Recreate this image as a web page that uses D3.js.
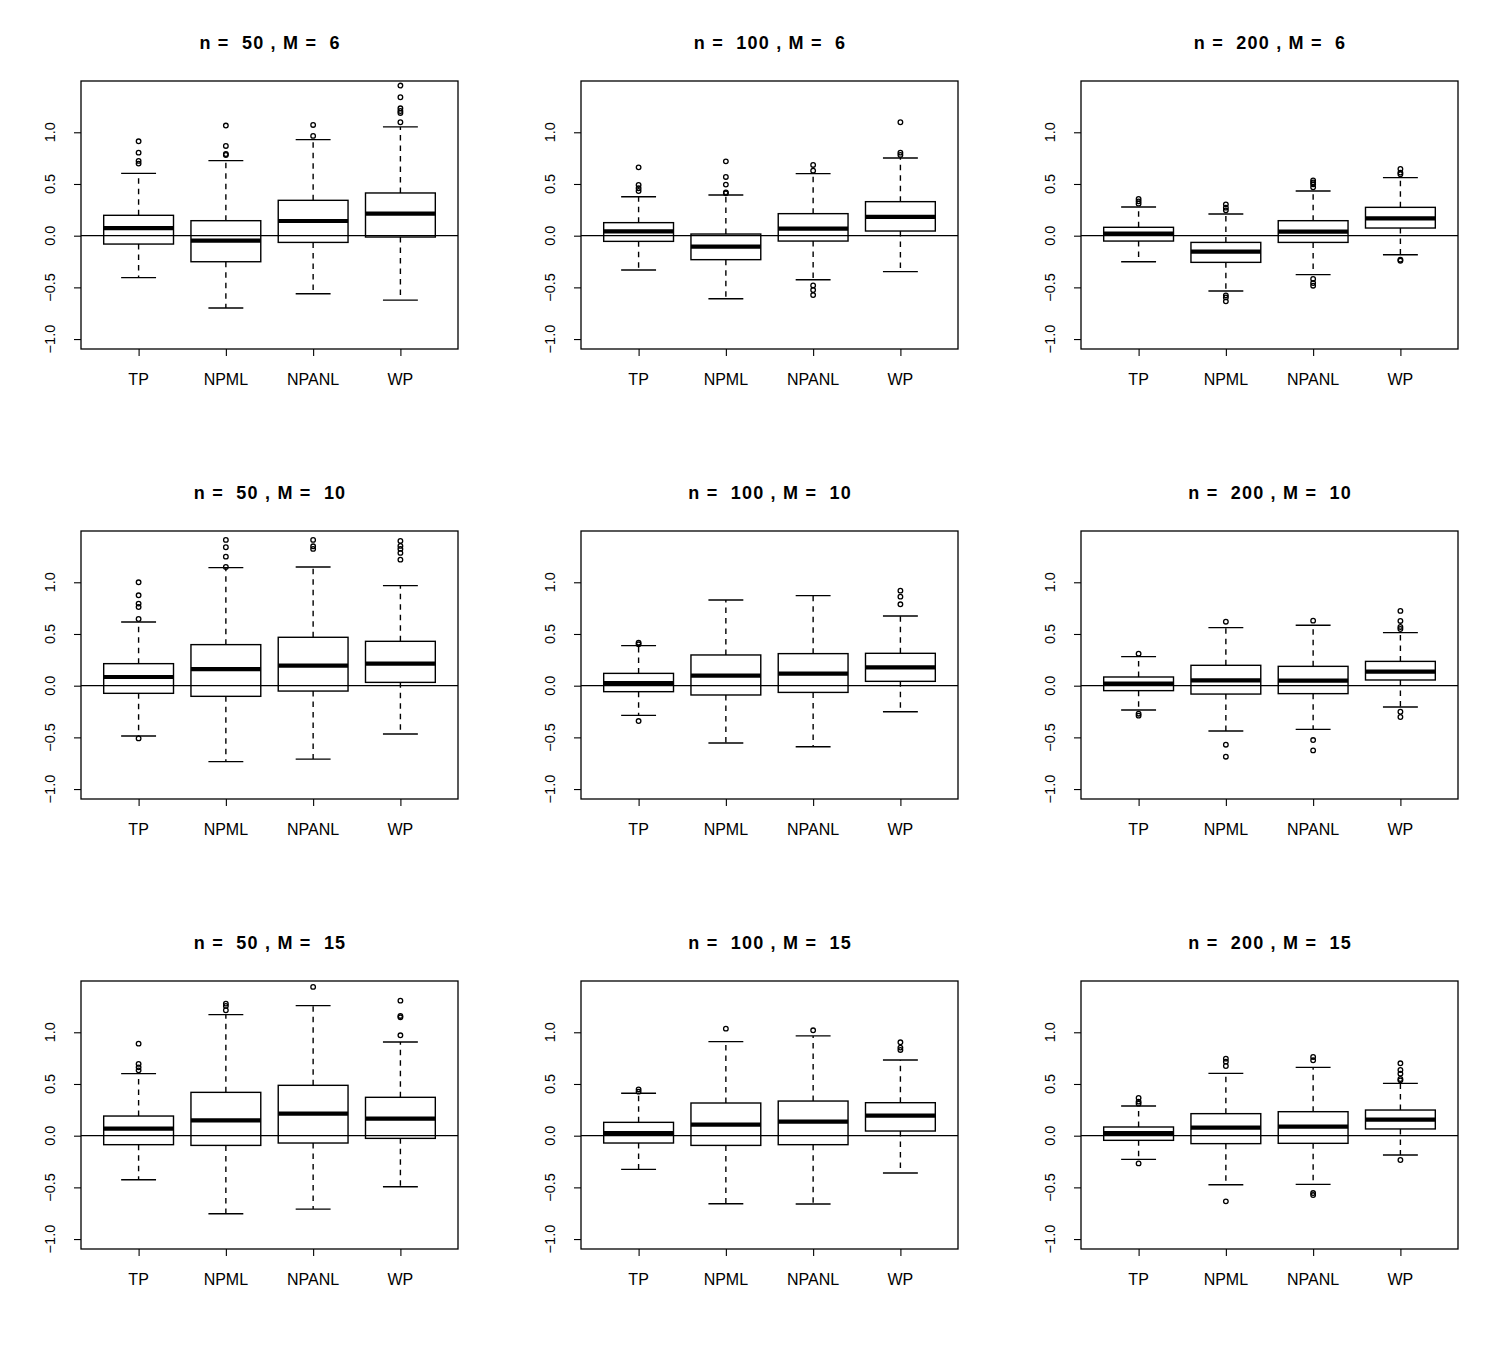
<!DOCTYPE html>
<html>
<head>
<meta charset="utf-8">
<script src="https://cdn.jsdelivr.net/npm/d3@7"></script>
<style>
  body { margin: 0; background: #fff; }
  svg { font-family: "Liberation Sans", Arial, Helvetica, sans-serif; }
</style>
</head>
<body>
<svg id="chart" width="1500" height="1350"></svg>
<script>
// categories and panel settings
var methods = ['TP', 'NPML', 'NPANL', 'WP'];
var sampleSizes = [50, 100, 200];
var mValues = [6, 10, 15];
var yTicks = [-1.0, -0.5, 0.0, 0.5, 1.0];

// boxplot stats, one row per panel (row-major: M=6 n=50,100,200, M=10 ..., M=15 ...)
// each row: values for TP, NPML, NPANL, WP
var whiskerLow = [
  [-0.406, -0.700, -0.561, -0.623],
  [-0.332, -0.610, -0.426, -0.348],
  [-0.252, -0.535, -0.377, -0.184],
  [-0.487, -0.735, -0.710, -0.468],
  [-0.287, -0.555, -0.590, -0.252],
  [-0.235, -0.439, -0.423, -0.206],
  [-0.426, -0.755, -0.710, -0.494],
  [-0.326, -0.658, -0.661, -0.361],
  [-0.229, -0.474, -0.471, -0.187]
];
var q1 = [
  [-0.081, -0.252, -0.065, -0.013],
  [-0.055, -0.232, -0.052, 0.045],
  [-0.052, -0.258, -0.065, 0.074],
  [-0.074, -0.103, -0.052, 0.032],
  [-0.058, -0.090, -0.065, 0.042],
  [-0.048, -0.081, -0.077, 0.055],
  [-0.087, -0.094, -0.071, -0.026],
  [-0.071, -0.094, -0.087, 0.045],
  [-0.045, -0.077, -0.074, 0.065]
];
var medians = [
  [0.074, -0.048, 0.142, 0.213],
  [0.042, -0.106, 0.068, 0.181],
  [0.019, -0.155, 0.039, 0.168],
  [0.084, 0.161, 0.194, 0.213],
  [0.026, 0.097, 0.116, 0.177],
  [0.019, 0.052, 0.048, 0.135],
  [0.068, 0.148, 0.213, 0.165],
  [0.026, 0.106, 0.135, 0.194],
  [0.026, 0.077, 0.087, 0.155]
];
var q3 = [
  [0.197, 0.145, 0.342, 0.413],
  [0.126, 0.016, 0.213, 0.329],
  [0.081, -0.065, 0.145, 0.274],
  [0.213, 0.397, 0.468, 0.429],
  [0.119, 0.297, 0.310, 0.313],
  [0.084, 0.197, 0.187, 0.235],
  [0.190, 0.419, 0.487, 0.371],
  [0.129, 0.316, 0.335, 0.319],
  [0.084, 0.213, 0.232, 0.248]
];
var whiskerHigh = [
  [0.603, 0.726, 0.929, 1.052],
  [0.377, 0.394, 0.600, 0.752],
  [0.277, 0.210, 0.432, 0.561],
  [0.616, 1.142, 1.148, 0.968],
  [0.387, 0.829, 0.871, 0.674],
  [0.281, 0.561, 0.584, 0.513],
  [0.600, 1.171, 1.258, 0.906],
  [0.410, 0.910, 0.965, 0.732],
  [0.287, 0.603, 0.661, 0.506]
];
var outliers = [
  [[0.913, 0.803, 0.723, 0.697], [1.065, 0.868, 0.790, 0.781], [1.071, 0.965], [1.452, 1.339, 1.232, 1.206, 1.187, 1.097]],
  [[0.661, 0.490, 0.458, 0.432], [0.719, 0.568, 0.494, 0.419, 0.410], [0.684, 0.629, -0.481, -0.526, -0.574], [1.097, 0.803, 0.781]],
  [[0.355, 0.332, 0.310], [0.303, 0.271, 0.245, -0.577, -0.597, -0.635], [0.535, 0.516, 0.497, 0.468, -0.419, -0.458, -0.484], [0.645, 0.610, 0.594, -0.232, -0.242]],
  [[1.000, 0.874, 0.794, 0.761, 0.645, -0.510], [1.410, 1.339, 1.248, 1.148], [1.410, 1.348, 1.323], [1.400, 1.352, 1.323, 1.284, 1.219]],
  [[0.416, 0.400, -0.342], [], [], [0.919, 0.861, 0.787]],
  [[0.310, -0.271, -0.290], [0.619, -0.571, -0.687], [0.629, -0.526, -0.626], [0.723, 0.626, 0.568, 0.548, -0.252, -0.303]],
  [[0.890, 0.694, 0.661, 0.632], [1.277, 1.255, 1.213], [1.439], [1.306, 1.158, 1.145, 0.971]],
  [[0.448, 0.426], [1.035], [1.019], [0.903, 0.852, 0.829]],
  [[0.365, 0.329, 0.310, -0.268], [0.745, 0.716, 0.674, -0.635], [0.761, 0.729, -0.555, -0.574], [0.700, 0.635, 0.600, 0.548, 0.535, -0.235]]
];

var svg = d3.select('#chart');

// layout of the 3x3 grid
var panelW = 377, panelH = 268;
var colLeft = [81, 581, 1081];
var rowTop = [81, 531, 981];

// R style limits: ylim c(-1, 1.4), xlim c(0.5, 4.5), each padded by 4%
var yLim = [-1, 1.4];
var yPad = (yLim[1] - yLim[0]) * 0.04;
var xLim = [0.5, 4.5];
var xPad = (xLim[1] - xLim[0]) * 0.04;

var yScale = d3.scaleLinear()
    .domain([yLim[0] - yPad, yLim[1] + yPad])
    .range([panelH, 0]);
var xScale = d3.scaleLinear()
    .domain([xLim[0] - xPad, xLim[1] + xPad])
    .range([0, panelW]);

var boxHalf = 0.4, stapleHalf = 0.2;

mValues.forEach(function(M, r) {
  sampleSizes.forEach(function(n, c) {
    var p = r * 3 + c;
    var g = svg.append('g')
        .attr('transform', 'translate(' + [colLeft[c], rowTop[r]] + ')');

    // title, R paste() style double spaces
    g.append('text')
        .attr('x', panelW / 2 + 0.6)
        .attr('y', -32)
        .attr('text-anchor', 'middle')
        .attr('xml:space', 'preserve')
        .style('font-size', '18px')
        .style('font-weight', 'bold')
        .style('letter-spacing', '1.2px')
        .style('white-space', 'pre')
        .text(('n =  ' + n + ' , M =  ' + M).replace(/ /g, '\u00a0'));

    // y axis
    var yAx = g.append('g')
        .call(d3.axisLeft(yScale).tickValues(yTicks).tickSize(7).tickFormat(d3.format('.1f')));
    yAx.select('.domain').remove();
    yAx.selectAll('line').attr('stroke', '#000').attr('stroke-width', 1.1);
    yAx.selectAll('text').remove();
    g.selectAll('.ylab')
        .data(yTicks)
        .enter().append('text')
        .attr('class', 'ylab')
        .attr('transform', function(d) { return 'translate(' + [-26, yScale(d)] + ') rotate(-90)'; })
        .attr('text-anchor', 'middle')
        .style('font-size', '14.5px')
        .text(function(d) { return d3.format('.1f')(d).replace('-', '\u2212'); });

    // x axis
    var xAx = g.append('g')
        .attr('transform', 'translate(0,' + panelH + ')')
        .call(d3.axisBottom(xScale).tickValues([1, 2, 3, 4]).tickSize(7).tickFormat(''));
    xAx.select('.domain').remove();
    xAx.selectAll('line').attr('stroke', '#000').attr('stroke-width', 1.1);
    g.selectAll('.xlab')
        .data(methods)
        .enter().append('text')
        .attr('class', 'xlab')
        .attr('x', function(d, i) { return xScale(i + 1); })
        .attr('y', panelH + 35.7)
        .attr('text-anchor', 'middle')
        .style('font-size', '16px')
        .text(function(d) { return d; });

    // boxes
    methods.forEach(function(m, i) {
      var x = i + 1;
      var bg = g.append('g');
      // dashed whiskers
      bg.append('line')
          .attr('x1', xScale(x)).attr('x2', xScale(x))
          .attr('y1', yScale(q3[p][i])).attr('y2', yScale(whiskerHigh[p][i]))
          .attr('stroke', '#000').attr('stroke-width', 1.4).attr('stroke-dasharray', '5.5,5');
      bg.append('line')
          .attr('x1', xScale(x)).attr('x2', xScale(x))
          .attr('y1', yScale(q1[p][i])).attr('y2', yScale(whiskerLow[p][i]))
          .attr('stroke', '#000').attr('stroke-width', 1.4).attr('stroke-dasharray', '5.5,5');
      // staples
      [whiskerHigh[p][i], whiskerLow[p][i]].forEach(function(v) {
        bg.append('line')
            .attr('x1', xScale(x - stapleHalf)).attr('x2', xScale(x + stapleHalf))
            .attr('y1', yScale(v)).attr('y2', yScale(v))
            .attr('stroke', '#000').attr('stroke-width', 1.4);
      });
      // box
      bg.append('rect')
          .attr('x', xScale(x - boxHalf))
          .attr('y', yScale(q3[p][i]))
          .attr('width', xScale(x + boxHalf) - xScale(x - boxHalf))
          .attr('height', yScale(q1[p][i]) - yScale(q3[p][i]))
          .attr('fill', 'none').attr('stroke', '#000').attr('stroke-width', 1.4);
      // median
      bg.append('line')
          .attr('x1', xScale(x - boxHalf)).attr('x2', xScale(x + boxHalf))
          .attr('y1', yScale(medians[p][i])).attr('y2', yScale(medians[p][i]))
          .attr('stroke', '#000').attr('stroke-width', 4.2);
      // outliers
      bg.selectAll('circle')
          .data(outliers[p][i])
          .enter().append('circle')
          .attr('cx', xScale(x))
          .attr('cy', function(d) { return yScale(d); })
          .attr('r', 2.3)
          .attr('fill', 'none').attr('stroke', '#000').attr('stroke-width', 1.3);
    });

    // reference line at zero
    g.append('line')
        .attr('x1', 0).attr('x2', panelW)
        .attr('y1', yScale(0)).attr('y2', yScale(0))
        .attr('stroke', '#000').attr('stroke-width', 1.2);

    // frame
    g.append('rect')
        .attr('x', 0).attr('y', 0)
        .attr('width', panelW).attr('height', panelH)
        .attr('fill', 'none').attr('stroke', '#000').attr('stroke-width', 1.3);
  });
});
</script>
</body>
</html>
